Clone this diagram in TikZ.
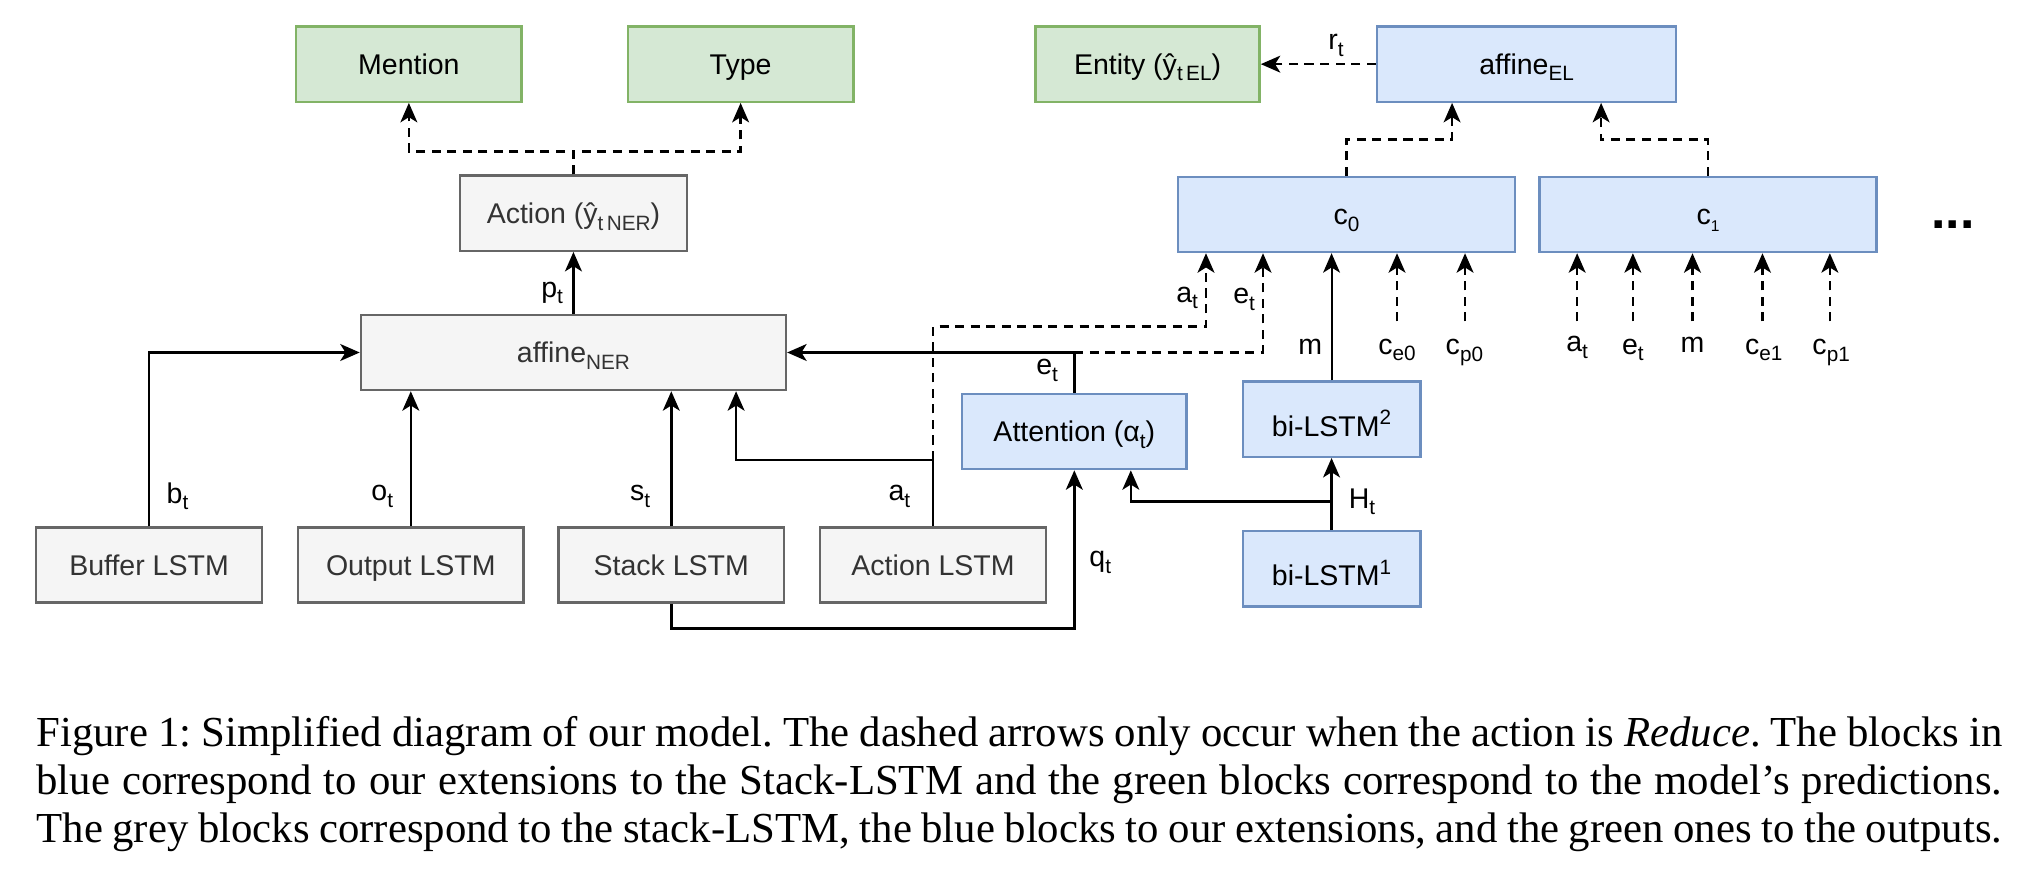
\documentclass[tikz,border=0pt]{standalone}
\usepackage{fontspec}
\setmainfont{Liberation Serif}
\newfontfamily\dsans{Liberation Sans}
\usetikzlibrary{arrows.meta}
\definecolor{gfill}{HTML}{D5E8D4}
\definecolor{gdraw}{HTML}{82B366}
\definecolor{bfill}{HTML}{DAE8FC}
\definecolor{bdraw}{HTML}{6C8EBF}
\definecolor{yfill}{HTML}{F5F5F5}
\definecolor{ydraw}{HTML}{666666}
\definecolor{ytext}{HTML}{333333}
\newcommand\sbs[1]{\raisebox{-5pt}{\fontsize{16}{16}\selectfont #1}}
\newcommand\sps[1]{\raisebox{9pt}{\fontsize{16}{16}\selectfont #1}}
\newcommand\tsbs[1]{\raisebox{-5pt}{\fontsize{12}{12}\selectfont #1}}
\frenchspacing
\begin{document}
\begin{tikzpicture}[x=1pt,y=-1pt,
  box/.style={draw, line width=1.8pt, minimum width=174pt, minimum height=58pt, inner sep=0pt, text height=19pt, text depth=3pt, font=\dsans\fontsize{22}{26}\selectfont},
  gbox/.style={box, fill=gfill, draw=gdraw, text=black},
  bbox/.style={box, fill=bfill, draw=bdraw, text=black},
  ybox/.style={box, fill=yfill, draw=ydraw, text=ytext},
  conn/.style={line width=2pt, -{Stealth[length=15pt,width=13pt,inset=4pt]}},
  dconn/.style={conn, dash pattern=on 7pt off 5pt},
  lbl/.style={font=\dsans\fontsize{22}{26}\selectfont, inner sep=0pt},
  capline/.style={anchor=base west, inner sep=0pt, font=\fontsize{33}{39}\selectfont},
]
\useasboundingbox (0,0) rectangle (1568,690);
\fill[white] (0,0) rectangle (1568,690);

% boxes
\node[gbox] (mention) at (315.5,49.5) {Mention};
\node[gbox] (type) at (571.5,49.5) {Type};
\node[gbox, minimum width=173pt] (entity) at (885.5,49.5) {Entity (ŷ\sbs{t\,EL})};
\node[bbox, minimum width=231pt] (affEL) at (1178,49.5) {affine\sbs{EL}};
\node[ybox, minimum width=175pt] (action) at (442.5,164.5) {Action (ŷ\sbs{t\,NER})};
\node[bbox, minimum width=260pt] (c0) at (1039,165.5) {c\sbs{0}};
\node[bbox, minimum width=260pt] (c1) at (1318,165.5) {c\tsbs{1}};
\node[anchor=base, inner sep=0pt, font=\dsans\bfseries\fontsize{40}{40}\selectfont] (dots) at (1507,176) {...};
\node[ybox, minimum width=328pt] (affNER) at (442.5,272) {affine\sbs{NER}};
\node[bbox, minimum width=173pt] (attention) at (829,333) {Attention (α\sbs{t})};
\node[bbox, minimum width=137pt] (bil2) at (1027.5,323.5) {\raisebox{-5pt}{bi-LSTM\sps{2}}};
\node[bbox, minimum width=137pt] (bil1) at (1027.5,439) {\raisebox{-5pt}{bi-LSTM\sps{1}}};
\node[ybox] (buffer) at (115,436) {Buffer LSTM};
\node[ybox] (output) at (317,436) {Output LSTM};
\node[ybox] (stack) at (518,436) {Stack LSTM};
\node[ybox] (actlstm) at (720,436) {Action LSTM};

% coordinates
\coordinate (aturn) at (720,355);
\coordinate (aup) at (720,252);
\coordinate (eturn) at (829,272);
\coordinate (hsplit) at (1027.5,387);
\coordinate (ce0) at (1078,248);
\coordinate (cp0) at (1130.5,248);
\coordinate (d1) at (1217,248);
\coordinate (d2) at (1260,248);
\coordinate (d3) at (1306,248);
\coordinate (d4) at (1360,248);
\coordinate (d5) at (1412,248);

% NER part
\draw[dconn] (action.north) -- ++(0,-17.5) -| (mention.south);
\draw[dconn] (action.north) -- ++(0,-17.5) -| (type.south);
\draw[conn] (affNER.north) -- (action.south);
\draw[conn] (buffer.north) |- (affNER.west);
\draw[conn] (output.north) -- (output.north |- affNER.south);
\draw[conn] (stack.north) -- (stack.north |- affNER.south);
\draw[conn] (actlstm.north) -- (aturn) -| ([xshift=125.5pt]affNER.south);
\draw[dconn] (aturn) -- (aup) -| ([xshift=-108.4pt]c0.south);
\draw[conn] (attention.north) |- (affNER.east);
\draw[dconn] (eturn) -| ([xshift=-64.4pt]c0.south);
\draw[conn] (stack.south) -- ++(0,19) -| (attention.south);

% EL part
\draw[conn] (bil1.north) -- (bil2.south);
\draw[conn] (hsplit) -| ([xshift=43.6pt]attention.south);
\draw[conn, line width=1.5pt] (bil2.north) -- (bil2.north |- c0.south);
\draw[dconn] (ce0) -- (ce0 |- c0.south);
\draw[dconn] (cp0) -- (cp0 |- c0.south);
\draw[dconn] (d1) -- (d1 |- c1.south);
\draw[dconn] (d2) -- (d2 |- c1.south);
\draw[dconn] (d3) -- (d3 |- c1.south);
\draw[dconn] (d4) -- (d4 |- c1.south);
\draw[dconn] (d5) -- (d5 |- c1.south);
\draw[dconn] (c0.north) -- ++(0,-28) -| ([xshift=-57.5pt]affEL.south);
\draw[dconn] (c1.north) -- ++(0,-28) -| ([xshift=57.5pt]affEL.south);
\draw[dconn] (affEL.west) -- (entity.east);

% labels
\node[lbl] (lpt) at (426,226) {p\sbs{t}};
\node[lbl] (lbt) at (137,383) {b\sbs{t}};
\node[lbl] (lot) at (295,383) {o\sbs{t}};
\node[lbl] (lst) at (494,383) {s\sbs{t}};
\node[lbl] (lat) at (694,383) {a\sbs{t}};
\node[lbl] (lat2) at (916,230) {a\sbs{t}};
\node[lbl] (let2) at (960,231) {e\sbs{t}};
\node[lbl] (let) at (808,286) {e\sbs{t}};
\node[lbl] (lm) at (1011,268) {m};
\node[lbl] (lce0) at (1078,270) {c\sbs{e0}};
\node[lbl] (lcp0) at (1130,272) {c\sbs{p0}};
\node[lbl] (lat3) at (1217,268) {a\sbs{t}};
\node[lbl] (let3) at (1260,270) {e\sbs{t}};
\node[lbl] (lm3) at (1306,266) {m};
\node[lbl] (lce1) at (1361,270) {c\sbs{e1}};
\node[lbl] (lcp1) at (1413,272) {c\sbs{p1}};
\node[lbl] (lrt) at (1031,35) {r\sbs{t}};
\node[lbl] (lht) at (1051,387) {H\sbs{t}};
\node[lbl] (lqt) at (849,434) {q\sbs{t}};

% caption
\node[capline] (cap1) at (28,576) {\makebox[1517pt][s]{Figure 1: Simplified diagram of our model. The dashed arrows only occur when the action is \textit{Reduce}. The blocks in}};
\node[capline] (cap2) at (28,613) {\makebox[1517pt][s]{blue correspond to our extensions to the Stack-LSTM and the green blocks correspond to the model’s predictions.}};
\node[capline] (cap3) at (28,650) {\makebox[1517pt][s]{The grey blocks correspond to the stack-LSTM, the blue blocks to our extensions, and the green ones to the outputs.}};
\end{tikzpicture}
\end{document}
